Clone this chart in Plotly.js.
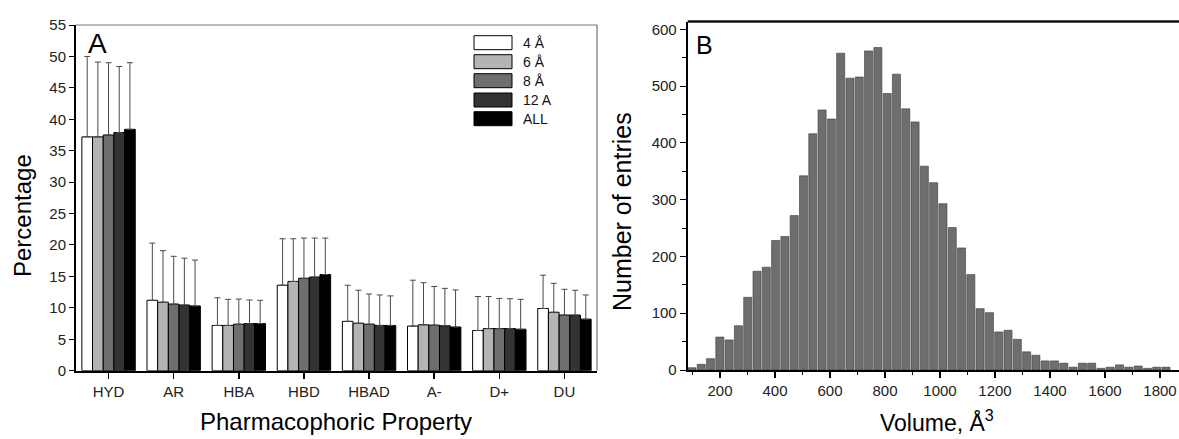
<!DOCTYPE html>
<html>
<head>
<meta charset="utf-8">
<script src="https://cdn.plot.ly/plotly-3.0.1.min.js"></script>
<style>
  html, body { margin: 0; padding: 0; background: #ffffff; }
  #chart { width: 1179px; height: 439px; }
</style>
</head>
<body>
<div id="chart"></div>
<script>
// ---------------- DATA ----------------
// Panel A: pharmacophoric property percentages
const categories = ['HYD', 'AR', 'HBA', 'HBD', 'HBAD', 'A-', 'D+', 'DU'];
const seriesNames = ['4 Å', '6 Å', '8 Å', '12 A', 'ALL'];

const values4A   = [37.2, 11.2, 7.2, 13.6, 7.85, 7.1, 6.4, 9.9];
const values6A   = [37.2, 10.9, 7.2, 14.2, 7.55, 7.3, 6.7, 9.3];
const values8A   = [37.5, 10.6, 7.4, 14.7, 7.4, 7.25, 6.7, 8.85];
const values12A  = [37.9, 10.45, 7.5, 14.9, 7.2, 7.15, 6.7, 8.85];
const valuesAll  = [38.4, 10.3, 7.5, 15.3, 7.2, 6.95, 6.6, 8.2];

const errors4A   = [12.8, 9.1, 4.4, 7.4, 5.75, 7.3, 5.4, 5.3];
const errors6A   = [11.9, 8.2, 4.15, 6.8, 5.25, 6.7, 5.1, 4.6];
const errors8A   = [11.5, 7.6, 4.0, 6.4, 4.8, 6.15, 4.8, 4.1];
const errors12A  = [10.5, 7.45, 3.75, 6.2, 4.85, 5.95, 4.75, 3.95];
const errorsAll  = [10.6, 7.3, 3.7, 5.8, 4.7, 5.9, 4.75, 3.85];

// Panel B: histogram of volumes (Å^3)
const volumeFirstBinCenter = 98;
const volumeBinWidth = 33.8;
const volumeCounts = [4, 10, 20, 58, 53, 78, 128, 174, 181, 228, 235, 272, 342, 416, 458, 442,
                      558, 514, 516, 562, 568, 487, 521, 460, 437, 359, 330, 293, 251, 215, 168,
                      108, 101, 67, 70, 54, 32, 26, 16, 16, 12, 5, 12, 12, 3, 5, 9, 5, 7, 3, 5, 5];

// ---------------- STYLE / LAYOUT ----------------
const W = 1179, H = 439;
const px = x => x / W;          // pixel -> paper x
const py = y => 1 - y / H;      // pixel -> paper y
const FONT = 'Liberation Sans, Arial, sans-serif';
const seriesColors = ['#ffffff', '#b4b4b4', '#6e6e6e', '#333333', '#000000'];

const seriesValues = [values4A, values6A, values8A, values12A, valuesAll];
const seriesErrors = [errors4A, errors6A, errors8A, errors12A, errorsAll];

const traces = seriesNames.map((name, i) => ({
  type: 'bar',
  name: name,
  x: categories,
  y: seriesValues[i],
  xaxis: 'x', yaxis: 'y',
  marker: { color: seriesColors[i], line: { color: '#000000', width: 1 } },
  error_y: {
    type: 'data', symmetric: false,
    array: seriesErrors[i],
    arrayminus: seriesErrors[i].map(() => 0),
    color: '#4a4a4a', thickness: 1, width: 3
  },
  showlegend: false,
  hoverinfo: 'skip'
}));

const binCenters = volumeCounts.map((_, k) => volumeFirstBinCenter + k * volumeBinWidth);
traces.push({
  type: 'bar',
  x: binCenters,
  y: volumeCounts,
  width: volumeBinWidth * 0.87,
  xaxis: 'x2', yaxis: 'y2',
  marker: { color: '#6e6e6e', line: { color: '#3a3a3a', width: 0.6 } },
  showlegend: false,
  hoverinfo: 'skip'
});

const tickFont = { family: FONT, size: 15, color: '#222222' };

// Manual legend (large rectangles like the reference)
const legendRows = [42.7, 61.7, 80.7, 100, 118.7];
const shapes = [];
const annotations = [];
seriesNames.forEach((name, i) => {
  shapes.push({
    type: 'rect', xref: 'paper', yref: 'paper',
    x0: px(474), x1: px(512), y0: py(legendRows[i] + 7), y1: py(legendRows[i] - 7),
    fillcolor: seriesColors[i], line: { color: '#000000', width: 1 }
  });
  annotations.push({
    xref: 'paper', yref: 'paper', x: px(521), y: py(legendRows[i]),
    xanchor: 'left', yanchor: 'middle', showarrow: false,
    text: name, font: { family: FONT, size: 14, color: '#111111' }
  });
});

// Frame lines: panel A top/right thin gray, panel B top thick black
shapes.push({ type: 'line', xref: 'x domain', yref: 'y domain', x0: 0, x1: 1, y0: 1, y1: 1,
              line: { color: '#777777', width: 1 } });
shapes.push({ type: 'line', xref: 'x domain', yref: 'y domain', x0: 1, x1: 1, y0: 0, y1: 1,
              line: { color: '#555555', width: 1 } });
shapes.push({ type: 'line', xref: 'x2 domain', yref: 'y2 domain', x0: 0, x1: 1, y0: 1, y1: 1,
              line: { color: '#111111', width: 2.5 } });

// Panel letters and axis titles
annotations.push(
  { xref: 'paper', yref: 'paper', x: px(97), y: py(43), xanchor: 'center', yanchor: 'middle',
    showarrow: false, text: 'A', font: { family: FONT, size: 28, color: '#000' } },
  { xref: 'paper', yref: 'paper', x: px(704), y: py(45), xanchor: 'center', yanchor: 'middle',
    showarrow: false, text: 'B', font: { family: FONT, size: 25, color: '#000' } },
  { xref: 'paper', yref: 'paper', x: px(23), y: py(216), xanchor: 'center', yanchor: 'middle',
    showarrow: false, textangle: -90, text: 'Percentage', font: { family: FONT, size: 24, color: '#000' } },
  { xref: 'paper', yref: 'paper', x: px(336), y: py(421), xanchor: 'center', yanchor: 'middle',
    showarrow: false, text: 'Pharmacophoric Property', font: { family: FONT, size: 24, color: '#000' } },
  { xref: 'paper', yref: 'paper', x: px(622), y: py(212), xanchor: 'center', yanchor: 'middle',
    showarrow: false, textangle: -90, text: 'Number of entries', font: { family: FONT, size: 25, color: '#000' } },
  { xref: 'paper', yref: 'paper', x: px(937), y: py(438), xanchor: 'center', yanchor: 'bottom',
    showarrow: false, text: 'Volume, Å<sup>3</sup>', font: { family: FONT, size: 23, color: '#000' } }
);

const layout = {
  width: W, height: H,
  margin: { l: 0, r: 0, t: 0, b: 0, pad: 0 },
  paper_bgcolor: '#ffffff', plot_bgcolor: '#ffffff',
  barmode: 'group', bargap: 0.18, bargroupgap: 0,
  showlegend: false,
  font: { family: FONT },
  xaxis: {
    domain: [px(76), px(597)],
    type: 'category', range: [-0.5, 7.5],
    showline: true, linecolor: '#000000', linewidth: 2,
    ticks: 'outside', ticklen: 6, tickwidth: 1.5, tickcolor: '#000',
    tickfont: tickFont, showgrid: false, zeroline: false, fixedrange: true,
    anchor: 'y'
  },
  yaxis: {
    domain: [py(370.7), py(25)],
    range: [0, 55], dtick: 5, tick0: 0,
    showline: true, linecolor: '#000000', linewidth: 2,
    ticks: 'outside', ticklen: 5, tickwidth: 1, tickcolor: '#000',
    tickfont: tickFont, showgrid: false, zeroline: false, fixedrange: true,
    anchor: 'x'
  },
  xaxis2: {
    domain: [px(687.7), 1],
    range: [82.5, 1869], dtick: 200, tick0: 0,
    showline: true, linecolor: '#000000', linewidth: 2,
    ticks: 'outside', ticklen: 6, tickwidth: 1.5, tickcolor: '#000',
    minor: { dtick: 100, ticks: 'outside', ticklen: 3, tickwidth: 1, tickcolor: '#000', showgrid: false },
    tickfont: tickFont, showgrid: false, zeroline: false, fixedrange: true,
    anchor: 'y2'
  },
  yaxis2: {
    domain: [py(370), py(21.5)],
    range: [0, 613.8], dtick: 100, tick0: 0,
    showline: true, linecolor: '#000000', linewidth: 2,
    ticks: 'outside', ticklen: 6, tickwidth: 1, tickcolor: '#000',
    minor: { dtick: 50, ticks: 'outside', ticklen: 4, tickwidth: 1, tickcolor: '#000', showgrid: false },
    tickfont: tickFont, showgrid: false, zeroline: false, fixedrange: true,
    anchor: 'x2'
  },
  shapes: shapes,
  annotations: annotations
};

Plotly.newPlot('chart', traces, layout, { staticPlot: true, displayModeBar: false });
</script>
</body>
</html>
